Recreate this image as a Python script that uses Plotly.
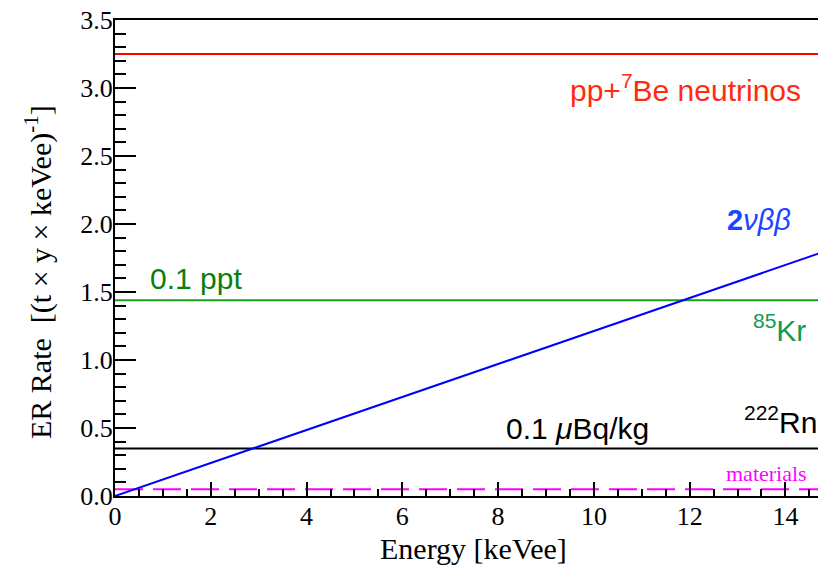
import plotly.graph_objects as go

# Data
energy_span = [0.0, 15.0]
pp_be7_rate = [3.25, 3.25]
kr85_rate = [1.44, 1.44]
rn222_rate = [0.35, 0.35]
materials_rate = [0.05, 0.05]
dbd_rate = [0.0, 1.82]

x_range = [0, 14.68]
y_range = [0, 3.5]

fig = go.Figure()
fig.add_trace(go.Scatter(x=energy_span, y=pp_be7_rate, mode="lines",
                         line=dict(color="#ff0000", width=2), showlegend=False))
fig.add_trace(go.Scatter(x=energy_span, y=kr85_rate, mode="lines",
                         line=dict(color="#19a019", width=2), showlegend=False))
fig.add_trace(go.Scatter(x=energy_span, y=rn222_rate, mode="lines",
                         line=dict(color="#000000", width=2), showlegend=False))
fig.add_trace(go.Scatter(x=energy_span, y=materials_rate, mode="lines",
                         line=dict(color="#ff00ff", width=2, dash="28px,10px"), showlegend=False))
fig.add_trace(go.Scatter(x=energy_span, y=dbd_rate, mode="lines",
                         line=dict(color="#0000ff", width=2), showlegend=False))

serif = "Liberation Serif"
sans = "Liberation Sans"

def px_to_paper(px, py):
    return ((px - 115) / 703, (496 - py) / 476)

labels = [
    ("pp+<sup>7</sup>Be neutrinos", 685, 88, "#ff2a10", sans, 30, "center"),
    ("<b>2</b><i>νββ</i>", 793, 220, "#1a44ff", sans, 29, "right"),
    ("0.1 ppt", 148, 278, "#0a7f0a", sans, 30, "left"),
    ("<sup>85</sup>Kr", 808, 328, "#0f9a55", sans, 30, "right"),
    ("0.1 <i>μ</i>Bq/kg", 504, 428, "#000000", sans, 30, "left"),
    ("<sup>222</sup>Rn", 819, 420, "#000000", sans, 30, "right"),
    ("materials", 809, 473, "#ff00ff", serif, 22, "right"),
]
for text, px, py, color, fam, size, anchor in labels:
    xp, yp = px_to_paper(px, py)
    fig.add_annotation(x=xp, y=yp, xref="paper", yref="paper", text=text, showarrow=False,
                       xanchor=anchor, yanchor="middle",
                       font=dict(family=fam, size=size, color=color))

# Axis titles
fig.add_annotation(x=(38 - 115) / 703, y=(496 - 272) / 476, xref="paper", yref="paper",
                   text="ER Rate  [(t × y × keVee)<sup>-1</sup>]", textangle=-90,
                   showarrow=False, xanchor="center", yanchor="middle",
                   font=dict(family=serif, size=30, color="black"))
fig.add_annotation(x=(473 - 115) / 703, y=(496 - 567) / 476, xref="paper", yref="paper",
                   text="Energy [keVee]", showarrow=False, xanchor="center", yanchor="bottom",
                   font=dict(family=serif, size=30, color="black"))

fig.update_layout(
    width=818, height=565,
    margin=dict(l=115, r=0, t=20, b=69),
    paper_bgcolor="white", plot_bgcolor="white",
    xaxis=dict(range=x_range, showgrid=False, zeroline=False, showline=True,
               linecolor="black", linewidth=2, mirror=True,
               ticks="inside", ticklen=14, tickwidth=1.5, tickcolor="black",
               dtick=2, tick0=0, ticklabelstandoff=-4,
               minor=dict(dtick=0.5, ticklen=7, tickwidth=1.5, tickcolor="black", ticks="inside"),
               tickfont=dict(family=serif, size=26, color="black")),
    yaxis=dict(range=y_range, showgrid=False, zeroline=False, showline=True,
               linecolor="black", linewidth=2, mirror=False,
               ticks="inside", ticklen=21, tickwidth=1.5, tickcolor="black",
               dtick=0.5, tick0=0, tickformat=".1f", ticklabelstandoff=-5,
               minor=dict(dtick=0.1, ticklen=11, tickwidth=1.5, tickcolor="black", ticks="inside"),
               tickfont=dict(family=serif, size=26, color="black")),
)

fig.write_html("out.html")
